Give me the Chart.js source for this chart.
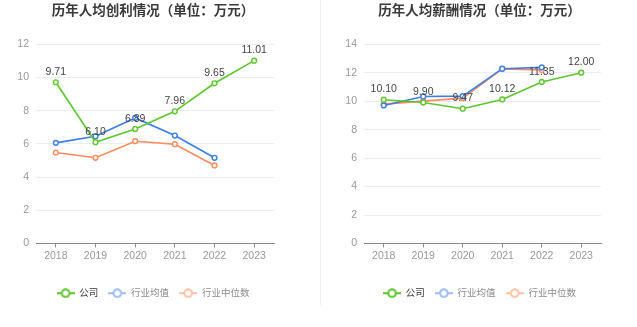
<!DOCTYPE html>
<html lang="zh">
<head>
<meta charset="UTF-8">
<title>人均创利与薪酬</title>
<script src="https://cdn.jsdelivr.net/npm/chart.js@4/dist/chart.umd.min.js"></script>
<style>
  body { margin: 0; background: #fff; }
  .wrap { position: relative; width: 637px; height: 327px; overflow: hidden; }
  .box { position: absolute; top: 0; height: 327px; }
  .divider { position: absolute; left: 320px; top: 0; width: 1px; height: 305px; background: #eeeeee; }
</style>
</head>
<body>
<div class="wrap">
  <div class="box" style="left:0;width:306px"><canvas id="profit" width="306" height="327"></canvas></div>
  <div class="divider"></div>
  <div class="box" style="left:322px;width:315px"><canvas id="salary" width="315" height="327"></canvas></div>
</div>

<script>
const years = ['2018', '2019', '2020', '2021', '2022', '2023'];
const seriesNames = ['公司', '行业均值', '行业中位数'];

// 历年人均创利
const profitCompany = [9.71, 6.10, 6.89, 7.96, 9.65, 11.01];
const profitAvg = [6.06, 6.46, 7.56, 6.50, 5.16, null];
const profitMedian = [5.48, 5.16, 6.16, 5.98, 4.70, null];

// 历年人均薪酬
const salaryCompany = [10.10, 9.90, 9.47, 10.12, 11.35, 12.00];
const salaryAvg = [9.70, 10.33, 10.35, 12.28, 12.37, null];
const salaryMedian = [9.79, 10.00, 10.21, 12.26, 12.19, null];

const colors = ['#5cc62c', '#3d7ee6', '#ff8a5c'];
const legendColors = ['#5cc62c', '#9dbcf3', '#ffc0a6'];
const legendText = ['#333333', '#8c8c8c', '#8c8c8c'];
const FONT = '"Liberation Sans", Arial, "Noto Sans CJK SC", sans-serif';

// legend icon: short line with a hollow circle
function legendIcon(color) {
  const c = document.createElement('canvas');
  c.width = 18; c.height = 10;
  const g = c.getContext('2d');
  g.strokeStyle = color;
  g.lineWidth = 2;
  g.beginPath(); g.moveTo(0, 5); g.lineTo(18, 5); g.stroke();
  g.fillStyle = '#fff';
  g.beginPath(); g.arc(9, 5, 3.8, 0, Math.PI * 2); g.fill(); g.stroke();
  return c;
}

// value labels above the company line
const valueLabels = {
  id: 'valueLabels',
  afterDatasetsDraw(chart) {
    const ctx = chart.ctx;
    const meta = chart.getDatasetMeta(0);
    const data = chart.data.datasets[0].data;
    ctx.save();
    ctx.font = '10.5px ' + FONT;
    ctx.fillStyle = '#444';
    ctx.textAlign = 'center';
    ctx.textBaseline = 'bottom';
    meta.data.forEach((pt, i) => {
      if (data[i] == null) return;
      ctx.fillText(data[i].toFixed(2), pt.x, pt.y - 5);
    });
    ctx.restore();
  }
};

function makeChart(id, title, values, yMax, yWidth, rightPad) {
  return new Chart(document.getElementById(id), {
    type: 'line',
    data: {
      labels: years,
      datasets: values.map((v, i) => ({
        label: seriesNames[i],
        data: v,
        borderColor: colors[i],
        backgroundColor: '#fff',
        borderWidth: 1.6,
        pointStyle: 'circle',
        pointRadius: 2.4,
        pointBorderWidth: 1.4,
        pointBackgroundColor: '#fff',
        tension: 0,
        spanGaps: false
      }))
    },
    options: {
      responsive: false,
      animation: false,
      layout: { padding: { left: 0, right: 0, top: 0, bottom: 19 } },
      plugins: {
        title: {
          display: true,
          text: title,
          color: '#3a3a3a',
          font: { size: 13.5, weight: 'bold', family: FONT },
          padding: { top: 3, bottom: 25 }
        },
        legend: {
          position: 'bottom',
          labels: {
            usePointStyle: true,
            pointStyleWidth: 18,
            padding: 10,
            font: { size: 9.5, family: FONT },
            generateLabels(chart) {
              return chart.data.datasets.map((ds, i) => ({
                text: ds.label,
                pointStyle: legendIcon(legendColors[i]),
                fontColor: legendText[i],
                strokeStyle: legendColors[i],
                fillStyle: '#fff',
                lineWidth: 0,
                datasetIndex: i,
                hidden: false
              }));
            }
          }
        },
        tooltip: { enabled: false }
      },
      scales: {
        x: {
          offset: true,
          grid: { display: true, drawOnChartArea: false, drawTicks: true, tickLength: 4, tickColor: '#8a8a8a' },
          border: { display: true, color: '#8a8a8a', width: 1 },
          ticks: { color: '#999', font: { size: 10.5, family: FONT }, padding: 2 },
          afterFit(scale) { scale.height = 35; }
        },
        y: {
          min: 0,
          max: yMax,
          grid: { color: '#e8edf6', drawTicks: false },
          border: { display: false },
          ticks: { stepSize: 2, color: '#999', font: { size: 10.5, family: FONT }, padding: 7 },
          afterFit(scale) { scale.width = yWidth; }
        },
        // empty right-hand axis keeps a margin beside the plot
        yRight: {
          position: 'right',
          display: true,
          grid: { display: false, drawTicks: false },
          border: { display: false },
          ticks: { display: false },
          afterFit(scale) { scale.width = rightPad; }
        }
      }
    },
    plugins: [valueLabels]
  });
}

makeChart('profit', '历年人均创利情况（单位：万元）',
  [profitCompany, profitAvg, profitMedian], 12, 36, 32);
makeChart('salary', '历年人均薪酬情况（单位：万元）',
  [salaryCompany, salaryAvg, salaryMedian], 14, 42, 36);
</script>
</body>
</html>
